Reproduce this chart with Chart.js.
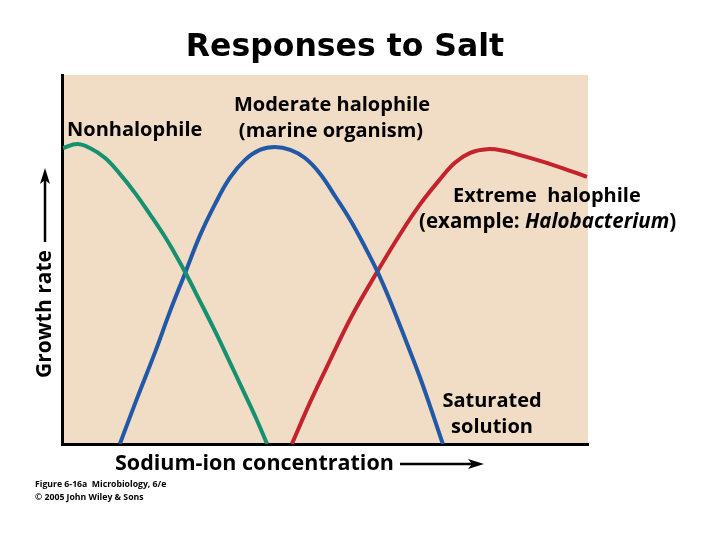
<!DOCTYPE html>
<html>
<head>
<meta charset="utf-8">
<title>Responses to Salt</title>
<script src="https://cdn.jsdelivr.net/npm/chart.js@4.4.0/dist/chart.umd.min.js"></script>
<style>
    body { margin: 0; background: #fff; }
    #wrap { width: 720px; height: 540px; position: relative; }
</style>
</head>
<body>
<div id="wrap"><canvas id="salt" width="720" height="540"></canvas></div>
<script>
// sodium-ion concentration (0-100, relative) and growth rate (0-100, relative)
const nonhaloX = [0.2, 2.9, 5.3, 8.2, 11.0, 13.9, 16.7, 19.6, 21.5, 23.4, 26.2, 29.1, 31.9, 34.2, 36.7, 39.0];
const nonhaloY = [80.2, 81.3, 80.2, 77.5, 73.2, 68.0, 62.3, 56.1, 51.5, 46.6, 38.8, 30.6, 22.2, 15.2, 7.6, 0];

const moderateX = [11.0, 14.3, 17.7, 20.5, 23.4, 26.2, 29.1, 31.9, 34.8, 37.6, 40.5, 43.4, 46.2, 49.1, 51.9, 54.8, 57.6, 60.1, 62.7, 65.4, 68.1, 70.3, 72.4];
const moderateY = [0, 12.5, 24.9, 35.8, 46.3, 56.4, 65.0, 72.1, 77.0, 79.7, 80.5, 79.7, 77.5, 73.2, 67.2, 60.7, 53.4, 46.3, 37.7, 27.9, 17.9, 8.9, 0];

const extremeX = [43.7, 47.2, 51.0, 55.1, 59.9, 64.3, 68.1, 71.9, 74.7, 77.6, 80.8, 84.2, 87.1, 93.4, 99.8];
const extremeY = [0, 11.4, 22.8, 34.7, 46.6, 56.9, 65.0, 71.8, 76.2, 78.9, 79.9, 79.4, 78.3, 75.6, 72.4];

const toPoints = (xs, ys) => xs.map((x, i) => ({ x: x, y: ys[i] }));

const labelFont = '"Open Sans", "Noto Sans", sans-serif';

const arrow = (ctx, x1, y1, x2, y2) => {
    const ang = Math.atan2(y2 - y1, x2 - x1);
    ctx.save();
    ctx.strokeStyle = '#000';
    ctx.fillStyle = '#000';
    ctx.lineWidth = 2.5;
    ctx.beginPath();
    ctx.moveTo(x1, y1);
    ctx.lineTo(x2 - 10 * Math.cos(ang), y2 - 10 * Math.sin(ang));
    ctx.stroke();
    ctx.translate(x2, y2);
    ctx.rotate(ang);
    ctx.beginPath();
    ctx.moveTo(0, 0);
    ctx.lineTo(-16, -5);
    ctx.lineTo(-12, 0);
    ctx.lineTo(-16, 5);
    ctx.closePath();
    ctx.fill();
    ctx.restore();
};

const backdrop = {
    id: 'backdrop',
    beforeDraw(chart) {
        const { ctx, chartArea } = chart;
        ctx.save();
        ctx.fillStyle = '#f1dcc6';
        ctx.fillRect(chartArea.left, chartArea.top, chartArea.right - chartArea.left, chartArea.bottom - chartArea.top);
        ctx.restore();
    }
};

const labels = {
    id: 'labels',
    afterDraw(chart) {
        const ctx = chart.ctx;
        ctx.save();
        ctx.fillStyle = '#000';
        ctx.textBaseline = 'middle';

        // title
        ctx.textAlign = 'center';
        ctx.font = 'bold 31.5px "DejaVu Sans", sans-serif';
        ctx.fillText('Responses to Salt', 345, 48);

        ctx.font = 'bold 20px ' + labelFont;
        ctx.textAlign = 'left';
        ctx.fillText('Nonhalophile', 67, 130);

        ctx.textAlign = 'center';
        ctx.fillText('Moderate halophile', 332, 105);
        ctx.fillText('(marine organism)', 331, 131);

        ctx.textAlign = 'left';
        ctx.fillText('Extreme  halophile', 453, 196);
        ctx.font = 'bold 20.5px ' + labelFont;
        let x = 419;
        const part1 = '(example: ';
        ctx.fillText(part1, x, 222);
        x += ctx.measureText(part1).width;
        ctx.font = 'italic bold 20.5px ' + labelFont;
        ctx.fillText('Halobacterium', x, 222);
        x += ctx.measureText('Halobacterium').width;
        ctx.font = 'bold 20.5px ' + labelFont;
        ctx.fillText(')', x, 222);

        ctx.font = 'bold 20px ' + labelFont;
        ctx.textAlign = 'center';
        ctx.fillText('Saturated', 492, 401);
        ctx.fillText('solution', 492, 427);

        // axis titles
        ctx.font = 'bold 21.5px ' + labelFont;
        ctx.textAlign = 'left';
        ctx.fillText('Sodium-ion concentration', 115, 464);
        arrow(ctx, 400, 464, 484, 464);

        ctx.font = 'bold 21px ' + labelFont;
        ctx.save();
        ctx.translate(45, 314);
        ctx.rotate(-Math.PI / 2);
        ctx.textAlign = 'center';
        ctx.fillText('Growth rate', 0, 0);
        ctx.restore();
        arrow(ctx, 45, 242, 45, 168);

        // credit
        ctx.textAlign = 'left';
        ctx.font = 'bold 8.7px ' + labelFont;
        ctx.fillText('Figure 6-16a  Microbiology, 6/e', 35, 485);
        ctx.fillText('\u00a9 2005 John Wiley & Sons', 35, 498);
        ctx.restore();
    }
};

const ctx = document.getElementById('salt').getContext('2d');

new Chart(ctx, {
    type: 'line',
    data: {
        datasets: [
            { label: 'Nonhalophile', data: toPoints(nonhaloX, nonhaloY), borderColor: 'rgb(22, 145, 112)' },
            { label: 'Moderate halophile', data: toPoints(moderateX, moderateY), borderColor: 'rgb(33, 89, 168)' },
            { label: 'Extreme halophile', data: toPoints(extremeX, extremeY), borderColor: 'rgb(196, 34, 44)' }
        ]
    },
    options: {
        responsive: false,
        animation: false,
        layout: { padding: { left: 54, top: 75, right: 132, bottom: 88 } },
        datasets: {
            line: {
                borderWidth: 4,
                pointRadius: 0,
                tension: 0.4,
                fill: false
            }
        },
        scales: {
            x: {
                type: 'linear',
                min: 0,
                max: 100,
                ticks: { display: false },
                grid: { display: false },
                border: { display: true, color: '#000', width: 3 }
            },
            y: {
                min: 0,
                max: 100,
                ticks: { display: false },
                grid: { display: false },
                border: { display: true, color: '#000', width: 3 }
            }
        },
        plugins: {
            legend: { display: false },
            tooltip: { enabled: false }
        }
    },
    plugins: [backdrop, labels]
});
</script>
</body>
</html>
